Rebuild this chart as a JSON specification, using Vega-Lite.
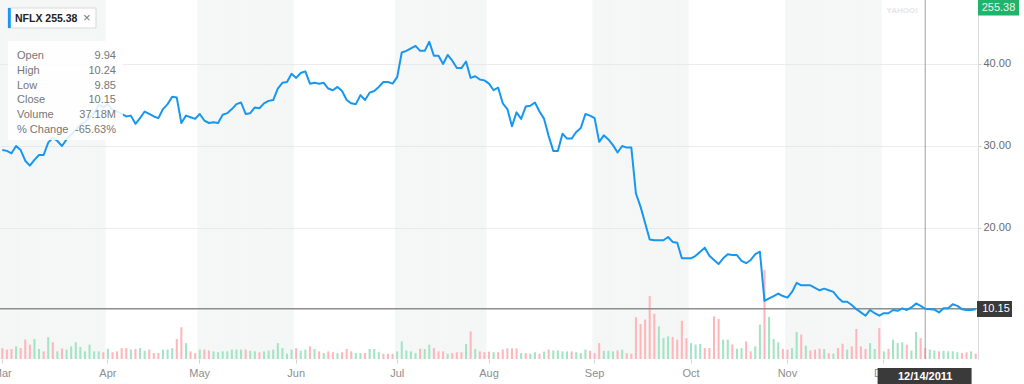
{
"$schema": "https://vega.github.io/schema/vega-lite/v6.json",
"width": 978, "height": 359,
"padding": {"left": 0, "top": 0, "right": 46, "bottom": 25},
"autosize": {"type": "none"},
"background": "white",
"config": {"view": {"stroke": null}, "font": "Liberation Sans"},
"data": {"values": [
{"date":"2011-03-01","close":29.5,"volume":37,"dir":"down"},
{"date":"2011-03-02","close":29.4,"volume":32,"dir":"down"},
{"date":"2011-03-03","close":29.1,"volume":34,"dir":"down"},
{"date":"2011-03-04","close":30.0,"volume":43,"dir":"up"},
{"date":"2011-03-07","close":29.5,"volume":37,"dir":"down"},
{"date":"2011-03-08","close":28.2,"volume":66,"dir":"down"},
{"date":"2011-03-09","close":27.6,"volume":49,"dir":"down"},
{"date":"2011-03-10","close":28.3,"volume":68,"dir":"up"},
{"date":"2011-03-11","close":28.9,"volume":34,"dir":"up"},
{"date":"2011-03-14","close":28.9,"volume":26,"dir":"down"},
{"date":"2011-03-15","close":30.4,"volume":74,"dir":"up"},
{"date":"2011-03-16","close":31.0,"volume":57,"dir":"down"},
{"date":"2011-03-17","close":30.6,"volume":26,"dir":"up"},
{"date":"2011-03-18","close":30.0,"volume":36,"dir":"down"},
{"date":"2011-03-21","close":30.8,"volume":32,"dir":"up"},
{"date":"2011-03-22","close":31.4,"volume":43,"dir":"up"},
{"date":"2011-03-23","close":32.0,"volume":57,"dir":"up"},
{"date":"2011-03-24","close":32.6,"volume":41,"dir":"up"},
{"date":"2011-03-25","close":32.9,"volume":26,"dir":"up"},
{"date":"2011-03-28","close":33.5,"volume":49,"dir":"up"},
{"date":"2011-03-29","close":34.0,"volume":26,"dir":"up"},
{"date":"2011-03-30","close":35.0,"volume":26,"dir":"up"},
{"date":"2011-03-31","close":34.7,"volume":23,"dir":"down"},
{"date":"2011-04-01","close":35.1,"volume":35,"dir":"up"},
{"date":"2011-04-04","close":34.4,"volume":23,"dir":"down"},
{"date":"2011-04-05","close":34.2,"volume":26,"dir":"down"},
{"date":"2011-04-06","close":33.9,"volume":37,"dir":"down"},
{"date":"2011-04-07","close":33.6,"volume":37,"dir":"down"},
{"date":"2011-04-08","close":33.7,"volume":32,"dir":"up"},
{"date":"2011-04-11","close":32.7,"volume":34,"dir":"down"},
{"date":"2011-04-12","close":33.4,"volume":37,"dir":"up"},
{"date":"2011-04-13","close":34.2,"volume":28,"dir":"up"},
{"date":"2011-04-14","close":33.9,"volume":32,"dir":"down"},
{"date":"2011-04-15","close":33.6,"volume":20,"dir":"down"},
{"date":"2011-04-18","close":33.4,"volume":20,"dir":"down"},
{"date":"2011-04-19","close":34.5,"volume":32,"dir":"up"},
{"date":"2011-04-20","close":35.1,"volume":32,"dir":"up"},
{"date":"2011-04-21","close":36.0,"volume":37,"dir":"up"},
{"date":"2011-04-25","close":35.9,"volume":68,"dir":"down"},
{"date":"2011-04-26","close":32.8,"volume":108,"dir":"down"},
{"date":"2011-04-27","close":33.7,"volume":54,"dir":"up"},
{"date":"2011-04-28","close":33.5,"volume":26,"dir":"down"},
{"date":"2011-04-29","close":33.3,"volume":20,"dir":"down"},
{"date":"2011-05-02","close":33.9,"volume":32,"dir":"up"},
{"date":"2011-05-03","close":33.1,"volume":32,"dir":"down"},
{"date":"2011-05-04","close":32.8,"volume":29,"dir":"down"},
{"date":"2011-05-05","close":32.9,"volume":26,"dir":"up"},
{"date":"2011-05-06","close":32.8,"volume":23,"dir":"up"},
{"date":"2011-05-09","close":33.8,"volume":26,"dir":"up"},
{"date":"2011-05-10","close":34.0,"volume":26,"dir":"up"},
{"date":"2011-05-11","close":34.5,"volume":32,"dir":"up"},
{"date":"2011-05-12","close":35.1,"volume":32,"dir":"up"},
{"date":"2011-05-13","close":35.3,"volume":32,"dir":"up"},
{"date":"2011-05-16","close":33.9,"volume":32,"dir":"down"},
{"date":"2011-05-17","close":34.0,"volume":28,"dir":"up"},
{"date":"2011-05-18","close":34.7,"volume":26,"dir":"up"},
{"date":"2011-05-19","close":34.6,"volume":23,"dir":"down"},
{"date":"2011-05-20","close":35.2,"volume":26,"dir":"up"},
{"date":"2011-05-23","close":35.5,"volume":29,"dir":"up"},
{"date":"2011-05-24","close":35.6,"volume":32,"dir":"up"},
{"date":"2011-05-25","close":37.0,"volume":54,"dir":"up"},
{"date":"2011-05-26","close":37.7,"volume":37,"dir":"up"},
{"date":"2011-05-27","close":37.8,"volume":18,"dir":"up"},
{"date":"2011-05-31","close":38.8,"volume":32,"dir":"up"},
{"date":"2011-06-01","close":38.3,"volume":37,"dir":"down"},
{"date":"2011-06-02","close":38.9,"volume":28,"dir":"up"},
{"date":"2011-06-03","close":39.1,"volume":32,"dir":"up"},
{"date":"2011-06-06","close":37.6,"volume":43,"dir":"down"},
{"date":"2011-06-07","close":37.7,"volume":34,"dir":"up"},
{"date":"2011-06-08","close":37.6,"volume":26,"dir":"down"},
{"date":"2011-06-09","close":37.7,"volume":20,"dir":"up"},
{"date":"2011-06-10","close":37.0,"volume":26,"dir":"down"},
{"date":"2011-06-13","close":36.8,"volume":23,"dir":"down"},
{"date":"2011-06-14","close":37.2,"volume":20,"dir":"up"},
{"date":"2011-06-15","close":36.7,"volume":23,"dir":"down"},
{"date":"2011-06-16","close":35.6,"volume":34,"dir":"down"},
{"date":"2011-06-17","close":35.2,"volume":26,"dir":"down"},
{"date":"2011-06-20","close":35.1,"volume":20,"dir":"up"},
{"date":"2011-06-21","close":36.2,"volume":20,"dir":"up"},
{"date":"2011-06-22","close":35.6,"volume":20,"dir":"down"},
{"date":"2011-06-23","close":36.5,"volume":34,"dir":"up"},
{"date":"2011-06-24","close":36.7,"volume":34,"dir":"up"},
{"date":"2011-06-27","close":37.2,"volume":23,"dir":"up"},
{"date":"2011-06-28","close":37.8,"volume":18,"dir":"down"},
{"date":"2011-06-29","close":37.8,"volume":18,"dir":"down"},
{"date":"2011-06-30","close":37.6,"volume":18,"dir":"down"},
{"date":"2011-07-01","close":38.4,"volume":26,"dir":"up"},
{"date":"2011-07-05","close":41.4,"volume":60,"dir":"up"},
{"date":"2011-07-06","close":41.6,"volume":29,"dir":"up"},
{"date":"2011-07-07","close":41.9,"volume":26,"dir":"up"},
{"date":"2011-07-08","close":42.2,"volume":20,"dir":"up"},
{"date":"2011-07-11","close":41.6,"volume":35,"dir":"down"},
{"date":"2011-07-12","close":41.6,"volume":34,"dir":"up"},
{"date":"2011-07-13","close":42.7,"volume":49,"dir":"up"},
{"date":"2011-07-14","close":41.0,"volume":37,"dir":"down"},
{"date":"2011-07-15","close":41.0,"volume":26,"dir":"down"},
{"date":"2011-07-18","close":40.0,"volume":26,"dir":"down"},
{"date":"2011-07-19","close":41.1,"volume":18,"dir":"up"},
{"date":"2011-07-20","close":40.4,"volume":20,"dir":"down"},
{"date":"2011-07-21","close":39.5,"volume":23,"dir":"down"},
{"date":"2011-07-22","close":39.5,"volume":23,"dir":"down"},
{"date":"2011-07-25","close":40.3,"volume":51,"dir":"up"},
{"date":"2011-07-26","close":38.3,"volume":94,"dir":"down"},
{"date":"2011-07-27","close":38.5,"volume":34,"dir":"up"},
{"date":"2011-07-28","close":38.1,"volume":26,"dir":"down"},
{"date":"2011-07-29","close":38.0,"volume":23,"dir":"down"},
{"date":"2011-08-01","close":37.6,"volume":25,"dir":"down"},
{"date":"2011-08-02","close":36.8,"volume":23,"dir":"up"},
{"date":"2011-08-03","close":37.1,"volume":23,"dir":"down"},
{"date":"2011-08-04","close":35.2,"volume":32,"dir":"down"},
{"date":"2011-08-05","close":34.5,"volume":36,"dir":"down"},
{"date":"2011-08-08","close":32.4,"volume":36,"dir":"down"},
{"date":"2011-08-09","close":34.1,"volume":36,"dir":"down"},
{"date":"2011-08-10","close":33.3,"volume":20,"dir":"up"},
{"date":"2011-08-11","close":34.8,"volume":20,"dir":"down"},
{"date":"2011-08-12","close":34.9,"volume":18,"dir":"up"},
{"date":"2011-08-15","close":35.3,"volume":23,"dir":"up"},
{"date":"2011-08-16","close":34.2,"volume":18,"dir":"down"},
{"date":"2011-08-17","close":33.3,"volume":25,"dir":"up"},
{"date":"2011-08-18","close":31.2,"volume":32,"dir":"down"},
{"date":"2011-08-19","close":29.4,"volume":29,"dir":"up"},
{"date":"2011-08-22","close":29.4,"volume":29,"dir":"up"},
{"date":"2011-08-23","close":31.5,"volume":26,"dir":"up"},
{"date":"2011-08-24","close":30.9,"volume":26,"dir":"up"},
{"date":"2011-08-25","close":30.9,"volume":26,"dir":"down"},
{"date":"2011-08-26","close":31.7,"volume":23,"dir":"up"},
{"date":"2011-08-29","close":32.2,"volume":20,"dir":"up"},
{"date":"2011-08-30","close":33.9,"volume":32,"dir":"up"},
{"date":"2011-08-31","close":33.7,"volume":28,"dir":"down"},
{"date":"2011-09-01","close":33.4,"volume":20,"dir":"down"},
{"date":"2011-09-02","close":30.5,"volume":54,"dir":"down"},
{"date":"2011-09-06","close":31.3,"volume":28,"dir":"up"},
{"date":"2011-09-07","close":30.8,"volume":28,"dir":"up"},
{"date":"2011-09-08","close":30.1,"volume":26,"dir":"up"},
{"date":"2011-09-09","close":29.2,"volume":29,"dir":"down"},
{"date":"2011-09-12","close":30.0,"volume":32,"dir":"up"},
{"date":"2011-09-13","close":29.8,"volume":20,"dir":"down"},
{"date":"2011-09-14","close":29.8,"volume":18,"dir":"down"},
{"date":"2011-09-15","close":24.2,"volume":142,"dir":"down"},
{"date":"2011-09-16","close":22.6,"volume":119,"dir":"down"},
{"date":"2011-09-19","close":20.6,"volume":134,"dir":"down"},
{"date":"2011-09-20","close":18.6,"volume":214,"dir":"down"},
{"date":"2011-09-21","close":18.5,"volume":154,"dir":"down"},
{"date":"2011-09-22","close":18.5,"volume":111,"dir":"up"},
{"date":"2011-09-23","close":18.5,"volume":71,"dir":"up"},
{"date":"2011-09-26","close":18.9,"volume":77,"dir":"up"},
{"date":"2011-09-27","close":18.3,"volume":75,"dir":"down"},
{"date":"2011-09-28","close":18.2,"volume":66,"dir":"down"},
{"date":"2011-09-29","close":16.3,"volume":130,"dir":"down"},
{"date":"2011-09-30","close":16.3,"volume":71,"dir":"down"},
{"date":"2011-10-03","close":16.3,"volume":54,"dir":"up"},
{"date":"2011-10-04","close":16.6,"volume":49,"dir":"up"},
{"date":"2011-10-05","close":17.1,"volume":51,"dir":"up"},
{"date":"2011-10-06","close":17.6,"volume":37,"dir":"down"},
{"date":"2011-10-07","close":16.6,"volume":37,"dir":"down"},
{"date":"2011-10-10","close":16.1,"volume":145,"dir":"down"},
{"date":"2011-10-11","close":15.6,"volume":136,"dir":"down"},
{"date":"2011-10-12","close":16.3,"volume":66,"dir":"up"},
{"date":"2011-10-13","close":16.8,"volume":66,"dir":"up"},
{"date":"2011-10-14","close":16.7,"volume":49,"dir":"down"},
{"date":"2011-10-17","close":16.7,"volume":35,"dir":"up"},
{"date":"2011-10-18","close":16.0,"volume":37,"dir":"up"},
{"date":"2011-10-19","close":15.7,"volume":60,"dir":"down"},
{"date":"2011-10-20","close":16.1,"volume":26,"dir":"down"},
{"date":"2011-10-21","close":16.8,"volume":43,"dir":"up"},
{"date":"2011-10-24","close":17.1,"volume":117,"dir":"up"},
{"date":"2011-10-25","close":11.1,"volume":303,"dir":"down"},
{"date":"2011-10-26","close":11.4,"volume":143,"dir":"up"},
{"date":"2011-10-27","close":11.7,"volume":68,"dir":"up"},
{"date":"2011-10-28","close":12.0,"volume":57,"dir":"up"},
{"date":"2011-10-31","close":11.7,"volume":34,"dir":"down"},
{"date":"2011-11-01","close":11.5,"volume":32,"dir":"down"},
{"date":"2011-11-02","close":12.2,"volume":37,"dir":"up"},
{"date":"2011-11-03","close":13.3,"volume":92,"dir":"up"},
{"date":"2011-11-04","close":13.0,"volume":83,"dir":"down"},
{"date":"2011-11-07","close":13.0,"volume":45,"dir":"up"},
{"date":"2011-11-08","close":13.0,"volume":29,"dir":"down"},
{"date":"2011-11-09","close":12.7,"volume":32,"dir":"down"},
{"date":"2011-11-10","close":12.4,"volume":35,"dir":"down"},
{"date":"2011-11-11","close":12.6,"volume":34,"dir":"up"},
{"date":"2011-11-14","close":12.4,"volume":20,"dir":"down"},
{"date":"2011-11-15","close":12.2,"volume":18,"dir":"up"},
{"date":"2011-11-16","close":11.5,"volume":37,"dir":"down"},
{"date":"2011-11-17","close":11.0,"volume":52,"dir":"down"},
{"date":"2011-11-18","close":11.0,"volume":32,"dir":"up"},
{"date":"2011-11-21","close":10.6,"volume":43,"dir":"down"},
{"date":"2011-11-22","close":10.1,"volume":102,"dir":"down"},
{"date":"2011-11-23","close":9.7,"volume":43,"dir":"down"},
{"date":"2011-11-25","close":9.3,"volume":34,"dir":"down"},
{"date":"2011-11-28","close":10.0,"volume":54,"dir":"up"},
{"date":"2011-11-29","close":9.6,"volume":34,"dir":"up"},
{"date":"2011-11-30","close":9.3,"volume":105,"dir":"down"},
{"date":"2011-12-01","close":9.6,"volume":26,"dir":"up"},
{"date":"2011-12-02","close":9.6,"volume":34,"dir":"down"},
{"date":"2011-12-05","close":10.0,"volume":66,"dir":"up"},
{"date":"2011-12-06","close":9.9,"volume":54,"dir":"up"},
{"date":"2011-12-07","close":10.2,"volume":57,"dir":"up"},
{"date":"2011-12-08","close":10.0,"volume":49,"dir":"down"},
{"date":"2011-12-09","close":10.3,"volume":29,"dir":"up"},
{"date":"2011-12-12","close":10.8,"volume":92,"dir":"up"},
{"date":"2011-12-13","close":10.5,"volume":71,"dir":"down"},
{"date":"2011-12-14","close":10.15,"volume":37.18,"dir":"down"},
{"date":"2011-12-15","close":10.1,"volume":32,"dir":"up"},
{"date":"2011-12-16","close":10.05,"volume":29,"dir":"up"},
{"date":"2011-12-19","close":9.7,"volume":26,"dir":"down"},
{"date":"2011-12-20","close":10.2,"volume":28,"dir":"up"},
{"date":"2011-12-21","close":10.2,"volume":26,"dir":"up"},
{"date":"2011-12-22","close":10.7,"volume":26,"dir":"up"},
{"date":"2011-12-23","close":10.5,"volume":23,"dir":"up"},
{"date":"2011-12-27","close":10.1,"volume":20,"dir":"down"},
{"date":"2011-12-28","close":10.0,"volume":23,"dir":"down"},
{"date":"2011-12-29","close":10.0,"volume":26,"dir":"up"},
{"date":"2011-12-30","close":10.1,"volume":18,"dir":"down"}
]},
"layer": [
{
"transform": [{"filter": "indexof(['03','05','07','09','11'], substring(datum.date, 5, 7)) >= 0"}],
"mark": {"type": "bar", "fill": "#dfe5e5", "opacity": 0.3},
"encoding": {
"x": {"field": "date", "type": "ordinal", "title": null,
"scale": {"paddingInner": 0, "paddingOuter": 0},
"axis": {"values": ["2011-03-01","2011-04-01","2011-05-02","2011-06-01","2011-07-01","2011-08-01","2011-09-01","2011-10-03","2011-11-01","2011-12-01"],
"labelExpr": "['Jan','Feb','Mar','Apr','May','Jun','Jul','Aug','Sep','Oct','Nov','Dec'][toNumber(substring(datum.value, 5, 7)) - 1]",
"domain": false, "ticks": true, "tickSize": 4, "tickColor": "#d4d4d4", "grid": false,
"labelColor": "#8e8e8e", "labelFontSize": 11, "labelPadding": 4, "labelAngle": 0,
"labelOverlap": false, "labelBound": false, "labelFlush": false, "title": null}}
}
},
{
"mark": {"type": "bar", "width": {"band": 0.45}},
"encoding": {
"x": {"field": "date", "type": "ordinal", "title": null},
"y": {"field": "volume", "type": "quantitative", "title": null, "scale": {"domain": [0, 1220]}, "axis": null},
"color": {"field": "dir", "type": "nominal", "scale": {"domain": ["up", "down"], "range": ["#a3e4c4", "#ffb6bb"]}, "legend": null}
}
},
{
"layer": [
{
"data": {"values": [{"price": 10.15}]},
"mark": {"type": "rule", "color": "#8e8e8e", "strokeWidth": 1.5},
"encoding": {"y": {"field": "price", "type": "quantitative", "title": null}}
},
{
"data": {"values": [{"date": "2011-12-14"}]},
"mark": {"type": "rule", "color": "#a0a0a0", "strokeWidth": 1},
"encoding": {"x": {"field": "date", "type": "ordinal", "title": null}}
},
{
"mark": {"type": "line", "color": "#1797ef", "strokeWidth": 2, "strokeJoin": "round"},
"encoding": {
"x": {"field": "date", "type": "ordinal", "title": null},
"y": {"field": "close", "type": "quantitative", "title": null,
"scale": {"domain": [4.02, 47.8], "nice": false, "zero": false},
"axis": {"orient": "right", "values": [20, 30, 40], "format": ".2f", "grid": true, "gridColor": "#ececec",
"domain": true, "domainColor": "#dcdcdc", "ticks": true, "tickSize": 3, "tickColor": "#cfcfcf",
"labelColor": "#6b6b6b", "labelFontSize": 11, "labelPadding": 2, "title": null}}
}
},
{
"data": {"values": [{"date": "2011-03-01", "price": 47.8}]},
"encoding": {"x": {"field": "date", "type": "ordinal", "title": null}, "y": {"field": "price", "type": "quantitative", "title": null}},
"layer": [
{"mark": {"type": "point", "shape": "M0.057,0.08H0.937V0.28H0.057Z", "size": 40000, "filled": true, "fill": "#ffffff", "stroke": "#d9d9d9", "strokeWidth": 1, "opacity": 1}},
{"mark": {"type": "point", "shape": "M0.057,0.08H0.085V0.28H0.057Z", "size": 40000, "filled": true, "fill": "#1797ef", "strokeWidth": 0, "opacity": 1}},
{"mark": {"type": "text", "text": "NFLX 255.38", "align": "left", "baseline": "middle", "dx": 12.7, "dy": 18.5, "fontSize": 10.5, "fontWeight": "bold", "color": "#222222"}},
{"mark": {"type": "text", "text": "×", "align": "center", "baseline": "middle", "dx": 84.5, "dy": 18, "fontSize": 13, "color": "#777777"}},
{"mark": {"type": "point", "shape": "M0.057,0.41H1.207V1.4H0.057Z", "size": 40000, "filled": true, "fill": "#ffffff", "fillOpacity": 0.85, "strokeWidth": 0, "opacity": 1}},
{"mark": {"type": "text", "align": "left", "baseline": "alphabetic", "dx": 14.7, "dy": 59, "lineHeight": 14.8, "fontSize": 11, "color": "#767676"},
 "encoding": {"text": {"value": ["Open", "High", "Low", "Close", "Volume", "% Change"]}}},
{"mark": {"type": "text", "align": "right", "baseline": "alphabetic", "dx": 113.7, "dy": 59, "lineHeight": 14.8, "fontSize": 11, "color": "#767676"},
 "encoding": {"text": {"value": ["9.94", "10.24", "9.85", "10.15", "37.18M", "-65.63%"]}}}
]
},
{
"data": {"values": [{"date": "2011-12-30", "price": 47.8}]},
"encoding": {"x": {"field": "date", "type": "ordinal", "title": null}, "y": {"field": "price", "type": "quantitative", "title": null}},
"layer": [
{"mark": {"type": "point", "shape": "M0.023,-0.02H0.433V0.155H0.023Z", "size": 40000, "filled": true, "fill": "#1fb36b", "strokeWidth": 0, "opacity": 1}},
{"mark": {"type": "text", "text": "255.38", "align": "center", "baseline": "middle", "dx": 22.8, "dy": 8, "fontSize": 11, "color": "#e9f9f0"}}
]
},
{
"data": {"values": [{"date": "2011-12-30", "price": 10.15}]},
"encoding": {"x": {"field": "date", "type": "ordinal", "title": null}, "y": {"field": "price", "type": "quantitative", "title": null}},
"layer": [
{"mark": {"type": "point", "shape": "M0.013,-0.078H0.363V0.082H0.013Z", "size": 40000, "filled": true, "fill": "#3a3a3a", "strokeWidth": 0, "opacity": 1}},
{"mark": {"type": "text", "text": "10.15", "align": "center", "baseline": "middle", "dx": 20.3, "dy": 0.5, "fontSize": 11, "color": "#ffffff"}}
]
},
{
"data": {"values": [{"date": "2011-12-14", "price": 4.02}]},
"encoding": {"x": {"field": "date", "type": "ordinal", "title": null}, "y": {"field": "price", "type": "quantitative", "title": null}},
"layer": [
{"mark": {"type": "point", "shape": "M-0.476,0.09H0.464V0.26H-0.476Z", "size": 40000, "filled": true, "fill": "#3a3a3a", "strokeWidth": 0, "opacity": 1}},
{"mark": {"type": "text", "text": "12/14/2011", "align": "center", "baseline": "middle", "dx": 0, "dy": 17.5, "fontSize": 11, "fontWeight": "bold", "color": "#ffffff"}}
]
},
{
"data": {"values": [{"date": "2011-12-14", "price": 47.8}]},
"mark": {"type": "text", "text": "YAHOO!", "align": "center", "baseline": "middle", "dx": -23, "dy": 11, "fontSize": 8, "fontWeight": "bold", "color": "#e6e6e6"},
"encoding": {"x": {"field": "date", "type": "ordinal", "title": null}, "y": {"field": "price", "type": "quantitative", "title": null}}
}
]
}
],
"resolve": {"scale": {"y": "independent"}}
}
